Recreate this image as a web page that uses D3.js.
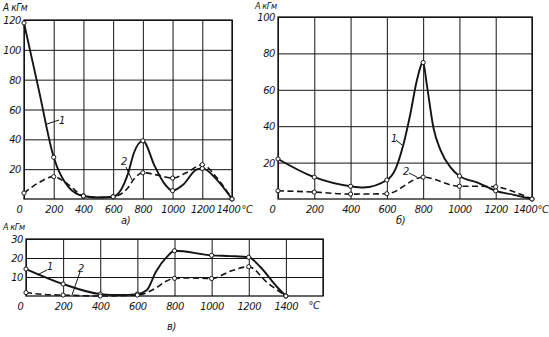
<!DOCTYPE html>
<html>
<head>
<meta charset="utf-8">
<script src="https://cdn.jsdelivr.net/npm/d3@7"></script>
<style>
  body { margin: 0; background: #fff; }
  svg text { font-family: "Liberation Sans Narrow", "DejaVu Sans Condensed", sans-serif; font-style: italic; fill: #141414; letter-spacing: -0.4px; }
</style>
</head>
<body>
<svg id="fig" width="549" height="337"></svg>
<script>
// Impact work A (kGm) versus temperature (°C) for three steels: а), б), в)
// Curve 1 – solid line, curve 2 – dashed line.
const markerTemps = [0, 200, 400, 600, 800, 1000, 1200, 1400];

// --- panel а) ---
const aXTicks = [0, 200, 400, 600, 800, 1000, 1200, 1400];
const aYTicks = [20, 40, 60, 80, 100, 120];
const aCurve1 = [[0,118],[100,73],[200,28],[300,8],[400,2],[500,1],[600,1.5],[700,17],[740,31],[800,39],[880,22],[940,11],[1000,5.6],[1070,9.5],[1160,19.7],[1200,20.5],[1300,12.7],[1400,0]];
const aCurve2 = [[0,4],[100,11],[200,15],[300,9.5],[400,2],[500,1],[600,1.5],[700,7.5],[740,13.4],[800,17.6],[900,16],[1000,14],[1100,18],[1200,23],[1300,14],[1400,0]];

// --- panel б) ---
const bXTicks = [0, 200, 400, 600, 800, 1000, 1200, 1400];
const bYTicks = [20, 40, 60, 80, 100];
const bCurve1 = [[0,22],[200,12],[400,7],[470,6.3],[600,10.4],[650,17],[690,29.5],[730,47],[765,65],[800,75],[820,63],[857,39],[895,27],[950,17.5],[1000,12.6],[1100,9],[1200,4.5],[1300,2.3],[1400,0]];
const bCurve2 = [[0,4.5],[200,3.8],[400,2.7],[600,2.9],[800,12],[1000,7],[1100,7],[1200,6.7],[1300,4],[1400,0]];

// --- panel в) ---
const cXTicks = [0, 200, 400, 600, 800, 1000, 1200, 1400, 1600];
const cXLabels = ["0", "200", "400", "600", "800", "1000", "1200", "1400", ""];
const cYTicks = [10, 20, 30];
const cCurve1 = [[0,14.2],[200,6.3],[400,1],[500,0.5],[600,1],[650,3],[700,12.8],[760,20.7],[800,23.8],[1000,21.4],[1100,21],[1200,20.4],[1260,15.5],[1350,5],[1400,0]];
const cCurve2 = [[0,1.8],[100,0.8],[200,0.5],[400,0],[600,0.5],[700,4.2],[750,7.5],[800,9.3],[900,9.5],[1000,9.2],[1100,13],[1200,15.4],[1300,7],[1400,0]];

const svg = d3.select("#fig");
const ink = "#141414";

function panel(cfg) {
  const g = svg.append("g");
  const x = d3.scaleLinear().domain(cfg.xDomain).range([cfg.left, cfg.right]);
  const y = d3.scaleLinear().domain(cfg.yDomain).range([cfg.bottom, cfg.top]);
  const w = cfg.right - cfg.left, h = cfg.bottom - cfg.top;

  // vertical grid + x tick labels
  const xa = g.append("g").attr("transform", `translate(0,${cfg.bottom})`)
    .call(d3.axisBottom(x).tickValues(cfg.xTicks).tickSize(-h).tickPadding(6)
      .tickFormat((d, i) => cfg.xLabels ? cfg.xLabels[i] : String(d)));
  xa.select(".domain").remove();
  xa.selectAll("line").attr("stroke", ink).attr("stroke-width", 1);
  xa.selectAll("text").attr("font-size", cfg.fs).attr("fill", ink)
    .attr("dx", d => d === 0 ? cfg.zeroDx : (cfg.lastDx && d === 1400 ? cfg.lastDx : 0));

  // horizontal grid + y tick labels
  const ya = g.append("g").attr("transform", `translate(${cfg.left},0)`)
    .call(d3.axisLeft(y).tickValues(cfg.yTicks).tickSize(-w).tickPadding(3));
  ya.select(".domain").remove();
  ya.selectAll("line").attr("stroke", ink).attr("stroke-width", 1);
  ya.selectAll("text").attr("font-size", cfg.fs).attr("fill", ink);

  // frame
  g.append("rect").attr("x", cfg.left).attr("y", cfg.top).attr("width", w).attr("height", h)
    .attr("fill", "none").attr("stroke", ink).attr("stroke-width", 1.3);

  const line = d3.line().x(d => x(d[0])).y(d => y(d[1])).curve(d3.curveMonotoneX);
  g.append("path").datum(cfg.c2).attr("d", line).attr("fill", "none")
    .attr("stroke", ink).attr("stroke-width", 1.6).attr("stroke-dasharray", "6,3.5");
  g.append("path").datum(cfg.c1).attr("d", line).attr("fill", "none")
    .attr("stroke", ink).attr("stroke-width", 1.9);

  // open circle markers at the measured temperatures
  const pts = cfg.c1.concat(cfg.c2).filter(d => markerTemps.includes(d[0]));
  g.selectAll("circle.m").data(pts).join("circle").attr("class", "m")
    .attr("cx", d => x(d[0])).attr("cy", d => y(d[1])).attr("r", 2.1)
    .attr("fill", "#fff").attr("stroke", ink).attr("stroke-width", 1);

  // unit label
  g.append("text").attr("x", cfg.unit[0]).attr("y", cfg.unit[1]).attr("font-size", cfg.unitFs).text("A кГм");
  // °C label
  g.append("text").attr("x", cfg.deg[0]).attr("y", cfg.deg[1]).attr("font-size", cfg.fs)
    .attr("text-anchor", cfg.deg[2]).text("°C");
  // panel caption
  g.append("text").attr("x", cfg.cap[0]).attr("y", cfg.cap[1]).attr("font-size", 11).text(cfg.cap[2]);

  // curve numbers with leader lines
  cfg.tags.forEach(t => {
    g.append("line").attr("x1", t.l[0]).attr("y1", t.l[1]).attr("x2", t.l[2]).attr("y2", t.l[3])
      .attr("stroke", ink).attr("stroke-width", 1);
    g.append("text").attr("x", t.p[0]).attr("y", t.p[1]).attr("font-size", 11).text(t.n);
  });
}

panel({
  left: 24, right: 232, top: 20, bottom: 199,
  xDomain: [0, 1400], yDomain: [0, 120],
  xTicks: aXTicks, yTicks: aYTicks, fs: 11, zeroDx: -5, lastDx: -4,
  c1: aCurve1, c2: aCurve2,
  unit: [3, 11], unitFs: 10,
  deg: [241.5, 213, "start"],
  cap: [121, 224, "а)"],
  tags: [
    { n: "1", p: [59, 124], l: [47, 124, 59, 120] },
    { n: "2", p: [121, 165], l: [126, 167, 132, 180] }
  ]
});

panel({
  left: 278, right: 532, top: 17, bottom: 199,
  xDomain: [0, 1400], yDomain: [0, 100],
  xTicks: bXTicks, yTicks: bYTicks, fs: 11, zeroDx: -6, lastDx: -7,
  c1: bCurve1, c2: bCurve2,
  unit: [255, 8.5], unitFs: 9,
  deg: [537.5, 213, "start"],
  cap: [396, 224, "б)"],
  tags: [
    { n: "1", p: [391, 142], l: [396, 140, 402, 145] },
    { n: "2", p: [403, 175], l: [409, 173, 417, 177] }
  ]
});

panel({
  left: 26, right: 323, top: 239, bottom: 296,
  xDomain: [0, 1600], yDomain: [0, 30],
  xTicks: cXTicks, xLabels: cXLabels, yTicks: cYTicks, fs: 11, zeroDx: -6,
  c1: cCurve1, c2: cCurve2,
  unit: [3, 230], unitFs: 9,
  deg: [314, 309, "middle"],
  cap: [167, 330, "в)"],
  tags: [
    { n: "1", p: [47, 270], l: [37, 275, 47, 270] },
    { n: "2", p: [78, 272], l: [80, 272, 72, 295] }
  ]
});
</script>
</body>
</html>
